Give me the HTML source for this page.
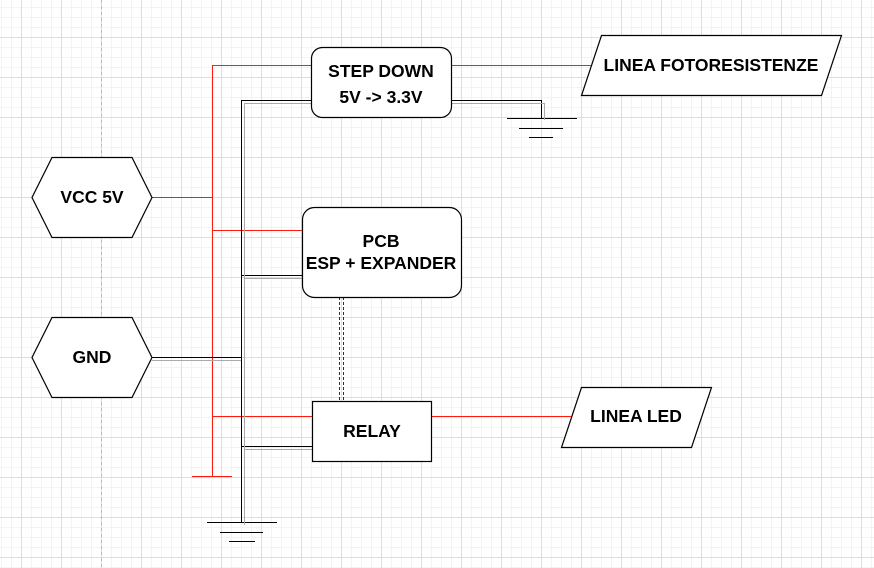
<!DOCTYPE html>
<html><head><meta charset="utf-8"><style>
html,body{margin:0;padding:0;background:#fff;}
svg{display:block;}
text{font-family:"Liberation Sans",Arial,sans-serif;font-weight:bold;font-size:17.5px;fill:#000;text-anchor:middle;}
</style></head><body>
<svg width="874" height="568" viewBox="0 0 874 568" xmlns="http://www.w3.org/2000/svg">
<defs>
<pattern id="minor" width="10" height="10" patternUnits="userSpaceOnUse" x="1" y="7">
<path d="M0 0.5H10M0.5 0V10" stroke="#f3f3f3" stroke-width="1" fill="none"/>
</pattern>
<pattern id="major" width="40" height="40" patternUnits="userSpaceOnUse" x="21" y="37">
<path d="M0 0.5H40M0.5 0V40" stroke="#dedede" stroke-width="1" fill="none"/>
</pattern>
</defs>
<rect width="874" height="568" fill="#fff"/>
<rect width="874" height="568" fill="url(#minor)"/>
<rect width="874" height="568" fill="url(#major)"/>
<line x1="101.5" y1="0" x2="101.5" y2="568" stroke="#bbb" stroke-dasharray="3,3"/>

<!-- red wiring -->
<g stroke="#ff1a10" stroke-width="1" fill="none">
<path d="M212.5 65.5V477"/>
<path d="M192 476.5H232"/>
<path d="M152 197.5H212"/>
<path d="M212 65.5H311"/>
<path d="M212 230.5H302"/>
<path d="M212 416.5H312"/>
<path d="M451 65.5H591"/>
<path d="M431 416.5H571"/>
</g>
<!-- black wiring -->
<g stroke="#000" stroke-width="1" fill="none">
<path d="M241.5 100.5V522.5"/>
<path d="M241 100.5H311"/>
<path d="M241 275.5H302"/>
<path d="M241 446.5H312"/>
<path d="M152 357.5H241"/>
<path d="M451 100.5H541.5V118"/>
<path d="M207 522.5H277M220 532.5H263M229 541.5H255"/>
<path d="M507 118.5H577M519 128.5H563M529 137.5H553"/>
</g>
<g stroke="#aaa" stroke-width="1" fill="none">
<path d="M244.5 103V525"/>
<path d="M244 103.5H311M244 278.5H302M244 449.5H312M152 360.5H241M451 103.5H544.5V120"/>
</g>
<!-- dashed -->
<g stroke="#1a1ad0" stroke-width="1" stroke-dasharray="3,2">
<path d="M339.5 297V401M343.5 297V401"/>
</g>

<!-- shapes -->
<g stroke="#000" stroke-width="1.2" fill="#fff">
<polygon points="52,157.5 132,157.5 152,197.5 132,237.5 52,237.5 32,197.5"/>
<polygon points="52,317.5 132,317.5 152,357.5 132,397.5 52,397.5 32,357.5"/>
<rect x="311.5" y="47.5" width="140" height="70" rx="11"/>
<rect x="302.5" y="207.5" width="159" height="90" rx="12"/>
<rect x="312.5" y="401.5" width="119" height="60"/>
<polygon points="601.5,35.5 841.5,35.5 821.5,95.5 581.5,95.5"/>
<polygon points="581.5,387.5 711.5,387.5 691.5,447.5 561.5,447.5"/>
</g>
<text x="92" y="203">VCC 5V</text>
<text x="92" y="363">GND</text>
<text x="381" y="77">STEP DOWN</text>
<text x="381" y="103">5V -&gt; 3.3V</text>
<text x="381" y="247">PCB</text>
<text x="381" y="269">ESP + EXPANDER</text>
<text x="372" y="437">RELAY</text>
<text x="711" y="71">LINEA FOTORESISTENZE</text>
<text x="636" y="422">LINEA LED</text>
</svg>
</body></html>
